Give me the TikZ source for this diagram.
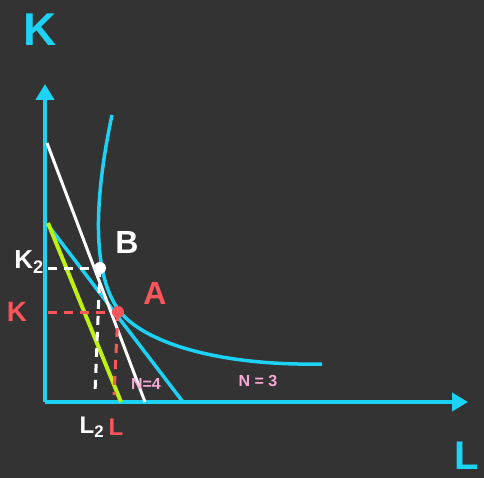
\documentclass[tikz,border=0pt]{standalone}
\usepackage{fontspec}
\setmainfont{Liberation Sans}
\usetikzlibrary{arrows.meta}
\definecolor{bgray}{RGB}{51,51,51}
\definecolor{axcyan}{RGB}{28,210,245}
\definecolor{lime}{RGB}{190,240,20}
\definecolor{dotred}{RGB}{250,85,90}
\definecolor{npink}{RGB}{248,170,215}
\tikzset{
  axis/.style={axcyan,line width=4pt,-{Triangle[length=16pt,width=18pt]}},
  hand/.style={font=\fontsize{#1}{#1}\selectfont\bfseries,inner sep=0pt},
  guide/.style={dashed,dash pattern=on 9pt off 7pt,line width=3pt},
  pt/.style={circle,fill=#1,minimum size=12pt,inner sep=0pt}
}
\begin{document}
\begin{tikzpicture}[x=1pt,y=-1pt,>=Stealth]
  \fill[bgray] (0,0) rectangle (484,478);
  \useasboundingbox (0,0) rectangle (484,478);
  % axes
  \coordinate (O) at (45,402);
  \coordinate (ytop) at (45,84);
  \coordinate (xend) at (468,402);
  \draw[axis] (O) -- (ytop);
  \draw[axis] (O) -- (xend);
  \node[hand=46,axcyan] (klab) at (40,30) {K};
  \node[hand=40,axcyan] (llab) at (467,456) {L};
  % points
  \coordinate (B) at (100,268);
  \coordinate (A) at (118,312);
  % budget lines
  \coordinate (c1) at (48,225);  \coordinate (c2) at (183,402);
  \coordinate (w1) at (47,143);  \coordinate (w2) at (145,402);
  \coordinate (g1) at (48,223);  \coordinate (g2) at (121,402);
  \draw[axcyan,line width=3.5pt] (c1) -- (c2);
  % isoquant
  \draw[axcyan,line width=3.5pt] (112,115) .. controls (94,200) and (92,272) .. (118,309)
        .. controls (142,343) and (220,366) .. (322,364);
  \draw[white,line width=3pt] (w1) -- (w2);
  \draw[lime,line width=4pt] (g1) -- (g2);
  % guides
  \coordinate (kb) at (48,268);  \coordinate (lb) at (95,393);
  \coordinate (ka) at (48,312);  \coordinate (la) at (114,395);
  \draw[guide,white] (kb) -- (B);
  \draw[guide,white] (B) -- (lb);
  \draw[guide,dotred] (ka) -- (A);
  \draw[guide,dotred] (A) -- (la);
  \node[pt=white] (Bdot) at (B) {};
  \node[pt=dotred] (Adot) at (A) {};
  % labels
  \node[hand=32,white] (blab) at (127,242) {B};
  \node[hand=32,dotred] (alab) at (155,293) {A};
  \node[hand=26,white] (k2lab) at (29,262) {K\textsubscript{2}};
  \node[hand=28,dotred] (kalab) at (17,312) {K};
  \node[hand=24,white] (l2lab) at (92,427) {L\textsubscript{2}};
  \node[hand=24,dotred] (lalab) at (116,427) {L};
  \node[hand=16,npink] (n4) at (146,384) {N=4};
  \node[hand=16,npink] (n3) at (258,381) {N = 3};
\end{tikzpicture}
\end{document}
